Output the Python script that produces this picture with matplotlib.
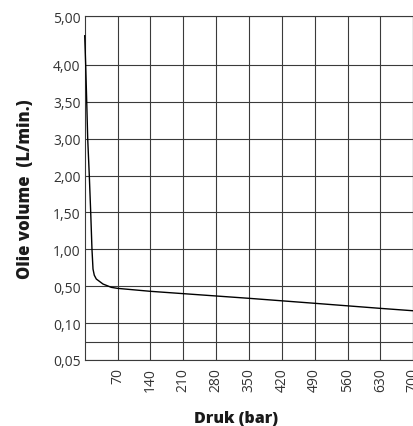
import numpy as np
import matplotlib
matplotlib.use("Agg")
import matplotlib.pyplot as plt
from matplotlib.ticker import FixedLocator, FuncFormatter

# --- data ---
pressure_bar = [0, 2.1, 4.3, 6.4, 9.8, 12.8, 15.5, 17.7, 20.4, 24.7, 39, 56.7, 70, 140, 350, 490, 630, 700]
flow_lpm = [4.60, 4.00, 3.50, 3.00, 2.00, 1.50, 1.00, 0.733, 0.65, 0.598, 0.53, 0.488, 0.477, 0.445, 0.369, 0.315, 0.260, 0.234]

x_ticks = [70, 140, 210, 280, 350, 420, 490, 560, 630, 700]
y_ticks = [0.05, 0.10, 0.50, 1.00, 1.50, 2.00, 3.00, 3.50, 4.00, 5.00]
y_minor = [0.075]

# piecewise axis mapping (value -> position on the printed scale)
scale_vals = [0.05, 0.075, 0.10, 0.50, 1.00, 1.50, 2.00, 3.00, 3.50, 4.00, 5.00]
scale_pos = [0, 0.5, 1, 2, 3, 4, 5, 6, 7, 8, 9.32]

def fwd(v):
    return np.interp(v, scale_vals, scale_pos)

def inv(p):
    return np.interp(p, scale_pos, scale_vals)

plt.rcParams['font.family'] = ['Open Sans', 'DejaVu Sans']

fig = plt.figure(figsize=(4.14, 4.27), dpi=100)
ax = fig.add_axes([84.7/414, 1-361/427, (413.3-84.7)/414, (361-17.3)/427])

ax.set_yscale('function', functions=(fwd, inv))
ax.set_xlim(0, 700)
ax.set_ylim(0.05, 5.0)

ax.plot(pressure_bar, flow_lpm, color='black', lw=1.0, solid_joinstyle='round',
        zorder=3, clip_on=False)

ax.yaxis.set_major_locator(FixedLocator(y_ticks))
ax.yaxis.set_minor_locator(FixedLocator(y_minor))
ax.yaxis.set_major_formatter(FuncFormatter(lambda v, p: f"{v:.2f}".replace('.', ',')))
ax.yaxis.set_minor_formatter(FuncFormatter(lambda v, p: ""))
ax.xaxis.set_major_locator(FixedLocator(x_ticks))
ax.set_xticklabels([str(t) for t in x_ticks], rotation=90)

ax.grid(True, which='both', color='#3a3a3a', lw=0.8)
ax.tick_params(axis='both', which='both', length=0, labelsize=10, colors='#333333')
ax.tick_params(axis='y', pad=3)
ax.tick_params(axis='x', pad=5)
for s in ax.spines.values():
    s.set_color('#3a3a3a')
    s.set_linewidth(0.8)

ax.set_xlabel('Druk (bar)', fontsize=11.5, fontweight='heavy', color='#1a1a1a')
ax.xaxis.set_label_coords((236-84.7)/328.6, (361-411)/343.7)
ax.set_ylabel('Olie volume  (L/min.)', fontsize=12, fontweight='heavy', color='#1a1a1a')
ax.yaxis.set_label_coords((34-84.7)/328.6, 0.5)

fig.savefig('out.png', dpi=100)
